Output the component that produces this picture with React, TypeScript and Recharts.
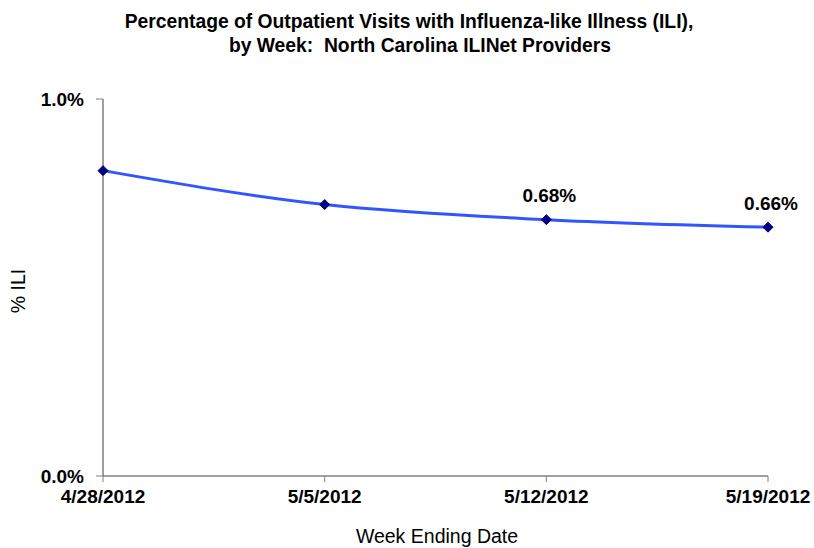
import React from 'react';
import { LineChart, Line, XAxis, YAxis, LabelList } from 'recharts';

const weeks = ['4/28/2012', '5/5/2012', '5/12/2012', '5/19/2012'];
const iliPct = [0.81, 0.72, 0.68, 0.66];
const pointLabels = ['', '', '0.68%', '0.66%'];
const yTicks = [0, 1];

const data = weeks.map((w, i) => ({ week: w, ili: iliPct[i], lbl: pointLabels[i] }));

const FONT = '"Liberation Sans", Arial, sans-serif';

const Diamond = (props: any) => {
  const { cx, cy } = props;
  if (cx == null || cy == null) return null;
  const r = 5;
  return (
    <polygon
      points={`${cx},${cy - r} ${cx + r},${cy} ${cx},${cy + r} ${cx - r},${cy}`}
      fill="#000080"
      stroke="#000080"
      strokeWidth={1}
    />
  );
};

const PointLabel = (props: any) => {
  const { x, y, value } = props;
  if (!value) return null;
  return (
    <text x={x + 3} y={y - 24} textAnchor="middle" dominantBaseline="central" fontFamily={FONT} fontWeight="bold" fontSize={19} fill="#000">
      {value}
    </text>
  );
};

export default function App() {
  return (
    <div style={{ position: 'absolute', left: 0, top: 0, width: 814, height: 548, background: '#fff' }}>
      <LineChart width={814} height={548} data={data} margin={{ top: 99, right: 46, bottom: 42, left: 0 }}>
        <text x={409} y={21} textAnchor="middle" dominantBaseline="central" fontFamily={FONT} fontWeight="bold" fontSize={19.3} fill="#000">
          Percentage of Outpatient Visits with Influenza-like Illness (ILI),
        </text>
        <text x={420} y={45} textAnchor="middle" dominantBaseline="central" fontFamily={FONT} fontWeight="bold" fontSize={19.3} fill="#000">
          by Week:{'\u00a0\u00a0'}North Carolina ILINet Providers
        </text>
        <XAxis
          dataKey="week"
          height={30}
          padding={{ left: 0, right: 0 }}
          tickSize={6}
          tickMargin={8}
          axisLine={{ stroke: '#404040', strokeWidth: 1 }}
          tickLine={{ stroke: '#808080' }}
          tick={{ fontFamily: FONT, fontWeight: 'bold', fontSize: 19, fill: '#000' }}
          interval={0}
          label={(p: any) => (
            <text x={437} y={536} textAnchor="middle" dominantBaseline="central" fontFamily={FONT} fontSize={19.5} fill="#000">
              Week Ending Date
            </text>
          )}
        />
        <YAxis
          width={103}
          domain={[0, 1]}
          ticks={yTicks}
          tickSize={7}
          tickMargin={12}
          axisLine={{ stroke: '#404040', strokeWidth: 1 }}
          tickLine={{ stroke: '#808080' }}
          tickFormatter={(v: number) => v.toFixed(1) + '%'}
          tick={{ fontFamily: FONT, fontWeight: 'bold', fontSize: 19, fill: '#000' }}
          label={(p: any) => (
            <text x={18} y={291} transform="rotate(-90 18 291)" textAnchor="middle" dominantBaseline="central" fontFamily={FONT} fontSize={19.5} fill="#000">
              % ILI
            </text>
          )}
        />
        <Line
          type="monotone"
          dataKey="ili"
          stroke="#3355ff"
          strokeWidth={3}
          dot={<Diamond />}
          activeDot={false}
          isAnimationActive={false}
        >
          <LabelList dataKey="lbl" content={<PointLabel />} />
        </Line>
      </LineChart>
    </div>
  );
}
